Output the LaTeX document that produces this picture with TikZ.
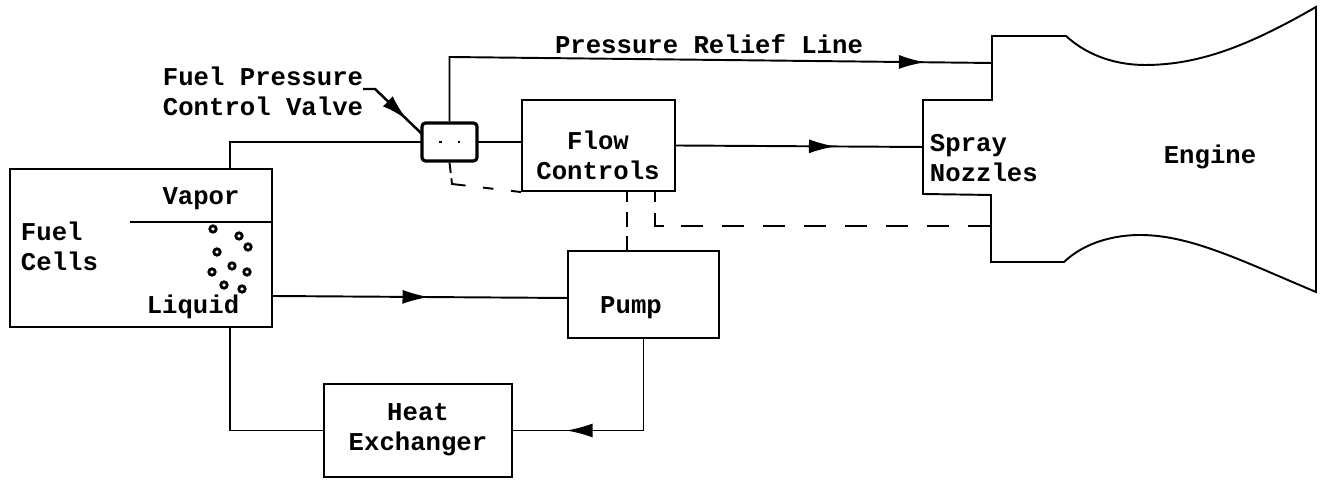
\documentclass[tikz,border=0pt]{standalone}
\usepackage{fontspec}
\setmonofont{Liberation Mono}
\usetikzlibrary{arrows.meta,decorations.markings}
\tikzset{
    block/.style={draw, line width=0.6pt, inner sep=0pt},
    tag/.style={font=\ttfamily\bfseries\fontsize{7.3}{8.6}\selectfont, align=center, inner sep=0pt},
    midarrow/.style={postaction={decorate, decoration={markings,
        mark=at position #1 with {\arrow{Latex[length=7.5pt,width=4pt]}}}}},
    valvedash/.style={dash pattern=on 3pt off 1.5pt on 5.5pt off 5pt on 3pt off 5pt on 4pt},
    pumpdash/.style={dash pattern=on 3pt off 3pt on 4.3pt off 2.5pt on 4pt},
    enginedash/.style={dash pattern=on 3.13pt off 3.13pt on 6.26pt off 4.84pt
        on 6.26pt off 5.41pt on 6.26pt off 5.41pt on 6.26pt off 5.41pt on 6.26pt off 5.41pt
        on 6.26pt off 5.41pt on 6.26pt off 5.41pt on 6.26pt off 5.41pt on 6.26pt},
}

\begin{document}
\begin{tikzpicture}[line width=0.55pt]
    \useasboundingbox (0,0) rectangle (13.25,4.8);

    % blocks
    \node[block, minimum width=2.62cm, minimum height=1.58cm] (fuel) at (1.41,2.32) {};
    \node[block, line width=0.9pt, rounded corners=1pt, minimum width=0.55cm, minimum height=0.38cm] (valve) at (4.495,3.38) {};
    \node[block, minimum width=1.53cm, minimum height=0.91cm] (flow) at (5.985,3.345) {};
    \node[block, minimum width=1.51cm, minimum height=0.87cm] (pump) at (6.435,1.855) {};
    \node[block, minimum width=1.88cm, minimum height=0.93cm] (exchanger) at (4.18,0.495) {};

    % engine outline
    \draw (9.92,4.44) -- (10.66,4.44)
        .. controls (10.9,4.22) and (11.2,4.15) .. (11.45,4.15)
        .. controls (12.0,4.15) and (12.5,4.35) .. (13.16,4.73)
        -- (13.16,1.88)
        .. controls (12.4,2.2) and (11.9,2.45) .. (11.4,2.45)
        .. controls (11.15,2.45) and (10.85,2.38) .. (10.64,2.18)
        -- (9.91,2.18) -- (9.91,2.85) -- (9.23,2.86) -- (9.23,3.80) -- (9.92,3.80) -- cycle;

    % labels
    \node[tag] (vaporlabel) at (2.01,2.81) {Vapor};
    \node[tag, anchor=west, align=left] (fuellabel) at (0.20,2.34) {Fuel\\Cells};
    \node[tag] (liquidlabel) at (1.93,1.73) {Liquid};
    \node[tag] (valvelabel) at (2.63,3.89) {Fuel Pressure\\Control Valve};
    \node[tag] (relieflabel) at (7.09,4.36) {Pressure Relief Line};
    \node[tag] (flowlabel) at (5.98,3.25) {Flow\\Controls};
    \node[tag] (pumplabel) at (6.31,1.72) {Pump};
    \node[tag] (exchangerlabel) at (4.18,0.50) {Heat\\Exchanger};
    \node[tag, anchor=west, align=left] (spraylabel) at (9.29,3.22) {Spray\\Nozzles};
    \node[tag] (enginelabel) at (12.10,3.23) {Engine};

    % junctions
    \coordinate (vaporout) at (2.30,3.11);
    \coordinate (reliefbend) at (4.495,4.23);
    \coordinate (reliefin) at (9.92,4.17);
    \coordinate (sprayin) at (9.23,3.33);
    \coordinate (liquidout) at (2.72,1.84);
    \coordinate (pumpin) at (5.68,1.82);
    \coordinate (liquiddown) at (2.30,1.53);
    \coordinate (vaporline) at (1.30,2.58);
    \coordinate (leaderstart) at (3.63,3.91);
    \coordinate (leaderbend) at (3.75,3.91);
    \coordinate (leaderend) at (4.22,3.46);
    \coordinate (dashbend) at (4.52,2.96);
    \coordinate (flowpump) at (6.27,2.89);
    \coordinate (flowengine) at (6.55,2.89);
    \coordinate (engineend) at (9.91,2.54);

    % fuel lines
    \draw (vaporout) |- (valve.west);
    \draw (vaporline) -- (vaporline -| fuel.east);
    \draw[midarrow=0.89] (valve.north) -- (reliefbend) -- (reliefin);
    \draw (valve.east) -- (valve.east -| flow.west);
    \draw[midarrow=0.645] (flow.east) -- (sprayin);
    \draw[midarrow=0.53] (liquidout) -- (pumpin);
    \draw[midarrow=0.76] (pump.south) |- (exchanger.east);
    \draw (liquiddown) |- (exchanger.west);

    % leader
    \draw[line width=0.7pt, midarrow=0.73] (leaderstart) -- (leaderbend) -- (leaderend);

    % valve inner dots
    \draw[dash pattern=on 0.8pt off 4.5pt] (valve.west) -- (valve.east);

    % signal lines
    \draw[valvedash] (valve.south) -- (dashbend) -- (flow.south west);
    \draw[pumpdash] (flowpump) -- (flowpump |- pump.north);
    \draw[enginedash] (flowengine) |- (engineend);

    % bubbles
    \foreach \bx/\by in {2.13/2.51, 2.39/2.44, 2.48/2.33, 2.17/2.28, 2.32/2.14, 2.12/2.08, 2.47/2.08, 2.24/1.95, 2.42/1.91} {
        \draw[line width=0.8pt] (\bx,\by) circle (0.032);
    }
\end{tikzpicture}
\end{document}
